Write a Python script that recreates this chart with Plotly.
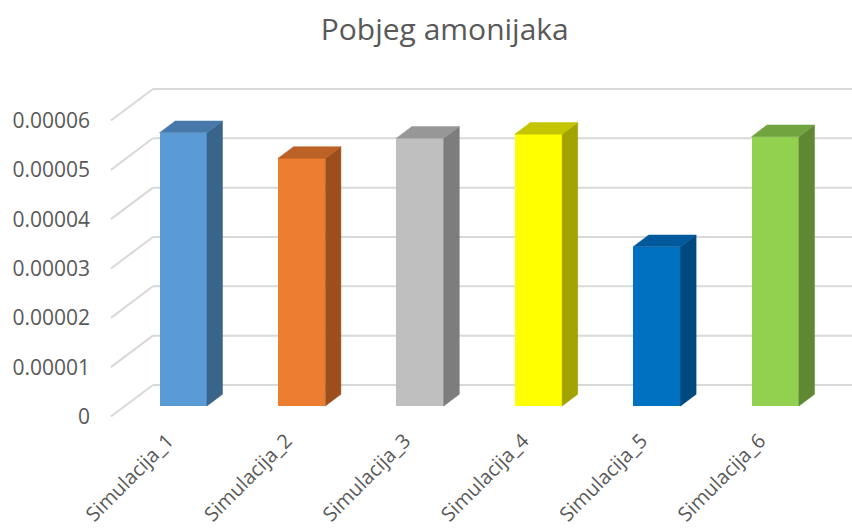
import plotly.graph_objects as go

# Data
categories = ["Simulacija_1", "Simulacija_2", "Simulacija_3",
              "Simulacija_4", "Simulacija_5", "Simulacija_6"]
values = [5.54e-5, 5.02e-5, 5.43e-5, 5.51e-5, 3.23e-5, 5.46e-5]
tick_values = [0, 1e-5, 2e-5, 3e-5, 4e-5, 5e-5, 6e-5]
tick_labels = ["0", "0.00001", "0.00002", "0.00003", "0.00004", "0.00005", "0.00006"]

front_colors = ["#5B9BD5", "#ED7D31", "#BFBFBF", "#FFFF00", "#0070C0", "#92D050"]
top_colors = ["#4679AA", "#BC6226", "#979797", "#C4C400", "#00599A", "#71A33E"]
side_colors = ["#3A6489", "#9C4F1D", "#7D7D7D", "#A3A300", "#00497E", "#5F8834"]

# Oblique 3D geometry (x in category units, y in value units)
DEPTH_X, DEPTH_Y = 0.355, 0.639e-5      # full floor depth
BAR_FRONT = 0.333                      # bar front plane, fraction of depth
BAR_DEPTH = 0.37                       # bar depth, fraction of depth
HALF_W = 0.2                           # half bar width
X_MIN, X_MAX = -0.661, 5.648
Y_MIN, Y_MAX = -0.233e-5, 6.821e-5
WALL_LEFT = -0.611                     # front-left corner of the floor/side lines
LABEL_SHIFT = 0.13                     # category labels sit slightly left of the bars

fig = go.Figure()

# Gridlines (below all traces): diagonal side lines plus back-wall horizontals
grid_shapes = []
for v in tick_values:
    grid_shapes.append(dict(type="line", xref="x", yref="y", layer="below",
                            x0=WALL_LEFT, y0=v, x1=WALL_LEFT + DEPTH_X, y1=v + DEPTH_Y,
                            line=dict(color="#D9D9D9", width=2)))
    grid_shapes.append(dict(type="line", xref="x", yref="y", layer="below",
                            x0=WALL_LEFT + DEPTH_X, y0=v + DEPTH_Y, x1=X_MAX, y1=v + DEPTH_Y,
                            line=dict(color="#D9D9D9", width=2)))

base = BAR_FRONT * DEPTH_Y
bdx, bdy = BAR_DEPTH * DEPTH_X, BAR_DEPTH * DEPTH_Y
for i, (cat, v) in enumerate(zip(categories, values)):
    top = base + v
    # side face
    fig.add_trace(go.Scatter(
        x=[i + HALF_W, i + HALF_W, i + HALF_W + bdx, i + HALF_W + bdx, i + HALF_W],
        y=[base, top, top + bdy, base + bdy, base],
        mode="lines", fill="toself", fillcolor=side_colors[i],
        line=dict(color=side_colors[i], width=0.5),
        hoverinfo="skip", showlegend=False))
    # top face
    fig.add_trace(go.Scatter(
        x=[i - HALF_W, i + HALF_W, i + HALF_W + bdx, i - HALF_W + bdx, i - HALF_W],
        y=[top, top, top + bdy, top + bdy, top],
        mode="lines", fill="toself", fillcolor=top_colors[i],
        line=dict(color=top_colors[i], width=0.5),
        hoverinfo="skip", showlegend=False))

# front faces
fig.add_trace(go.Bar(x=list(range(len(categories))), y=values, base=base,
                     width=2 * HALF_W, marker=dict(color=front_colors, line=dict(width=0)),
                     hovertext=categories, showlegend=False))

font_family = "Open Sans, sans-serif"
fig.update_layout(
    width=852, height=532,
    margin=dict(l=105, r=0, t=80, b=104),
    paper_bgcolor="white", plot_bgcolor="white",
    shapes=grid_shapes,
    title=dict(text="Pobjeg amonijaka", x=0.522, xanchor="center",
               y=1 - 29 / 532, yanchor="middle",
               font=dict(family=font_family, size=30, color="#595959")),
    xaxis=dict(range=[X_MIN, X_MAX], showgrid=False, zeroline=False, showline=False,
               automargin=False,
               tickmode="array",
               tickvals=[i - LABEL_SHIFT for i in range(len(categories))],
               ticktext=categories, tickangle=-45, ticks="", ticklabelstandoff=-4,
               tickfont=dict(family=font_family, size=20, color="#595959")),
    yaxis=dict(range=[Y_MIN, Y_MAX], showgrid=False, zeroline=False, showline=False,
               automargin=False,
               tickmode="array", tickvals=tick_values, ticktext=tick_labels,
               ticks="", ticklabelstandoff=14,
               tickfont=dict(family=font_family, size=21, color="#595959")),
    bargap=0,
)

fig.write_html("out.html")
